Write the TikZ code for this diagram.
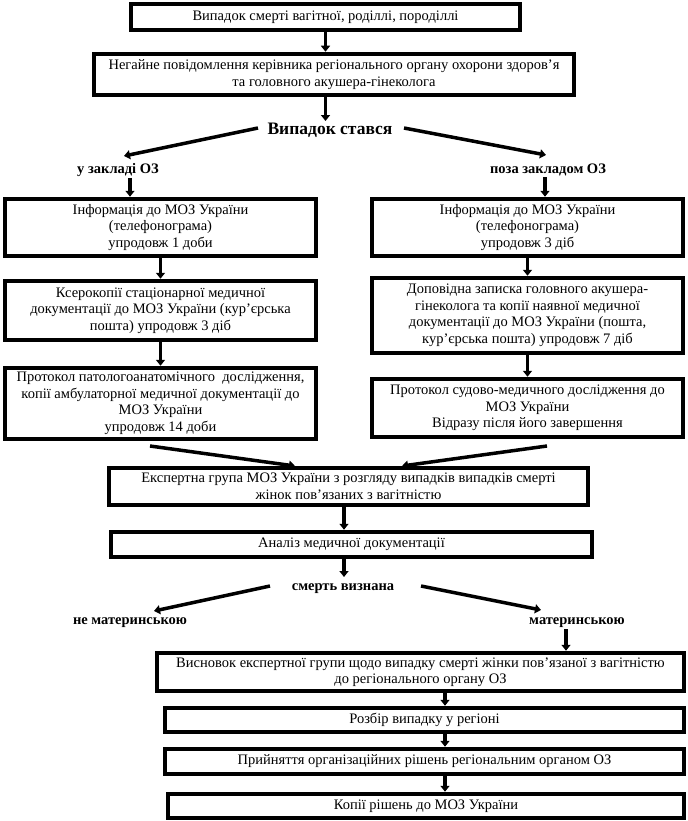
\documentclass[tikz,border=0pt]{standalone}
\usepackage{fontspec}
\setmainfont{Liberation Serif}
\usetikzlibrary{arrows.meta}
\tikzset{
  x=1bp, y=-1bp,
  box/.style={draw, line width=4.5bp, align=center, inner sep=0pt,
    font=\fontsize{14.5bp}{16.5bp}\selectfont},
  lbl/.style={inner sep=1bp, font=\bfseries\fontsize{14.5bp}{16bp}\selectfont},
  arr/.style={line width=3.5bp, -{Triangle[length=6bp,width=9bp]}},
}
\begin{document}
\begin{tikzpicture}
\useasboundingbox (0,0) rectangle (688,821);
% top
\node[box, minimum width=389bp, minimum height=26bp] (b1) at (325.5,17) {Випадок смерті вагітної, роділлі, породіллі};
\node[box, minimum width=480bp, minimum height=41bp] (b2) at (334,74.5) {Негайне повідомлення керівника регіонального органу охорони здоров’я\\та головного акушера-гінеколога};
\node[lbl, font=\bfseries\fontsize{17.5bp}{19bp}\selectfont] (case) at (330,130) {Випадок стався};
\node[lbl] (inz) at (118,170) {у закладі ОЗ};
\node[lbl] (outz) at (548,170) {поза закладом ОЗ};
\coordinate (cl0) at (258,128);
\coordinate (cl1) at (124,156);
\coordinate (cr0) at (404,128);
\coordinate (cr1) at (546,155);
\coordinate (caseTop) at (325.5,121);
% left column
\node[box, minimum width=311bp, minimum height=57bp] (a1) at (160.5,227.5) {Інформація до МОЗ України\\(телефонограма)\\упродовж 1 доби};
\node[box, minimum width=311bp, minimum height=59bp] (a2) at (160.5,310.5) {Ксерокопії стаціонарної медичної\\документації до МОЗ України (кур’єрська\\пошта) упродовж 3 діб};
\node[box, minimum width=311bp, minimum height=71bp] (a3) at (160.5,403.5) {Протокол патологоанатомічного\ \ дослідження,\\копії амбулаторної медичної документації до\\МОЗ України\\упродовж 14 доби};
% right column
\node[box, minimum width=311bp, minimum height=57bp] (r1) at (527.5,227.5) {Інформація до МОЗ України\\(телефонограма)\\упродовж 3 діб};
\node[box, minimum width=311bp, minimum height=75bp] (r2) at (527.5,315.5) {Доповідна записка головного акушера-\\гінеколога та копії наявної медичної\\документації до МОЗ України (пошта,\\кур’єрська пошта) упродовж 7 діб};
\node[box, minimum width=311bp, minimum height=58bp] (r3) at (527.5,408) {Протокол судово-медичного дослідження до\\МОЗ України\\Відразу після його завершення};
\coordinate (gl0) at (150,446);
\coordinate (gl1) at (295,466);
\coordinate (gr0) at (547,446);
\coordinate (gr1) at (402,466);
% middle
\node[box, minimum width=479bp, minimum height=37bp] (exp) at (348.5,486.5) {Експертна група МОЗ України з розгляду випадків випадків смерті\\жінок пов’язаних з вагітністю};
\node[box, minimum width=481bp, minimum height=25bp] (ana) at (351.5,544.5) {Аналіз медичної документації};
\node[lbl] (death) at (343,589) {смерть визнана};
\node[lbl] (notm) at (130,623) {не материнською};
\node[lbl] (mat) at (577,623) {материнською};
\coordinate (deathTop) at (344,577);
\coordinate (dl0) at (270,586);
\coordinate (dl1) at (154,611);
\coordinate (dr0) at (421,586);
\coordinate (dr1) at (541,610);
% bottom
\node[box, minimum width=527bp, minimum height=38bp] (c1) at (420.5,672) {Висновок експертної групи щодо випадку смерті жінки пов’язаної з вагітністю\\до регіонального органу ОЗ};
\node[box, minimum width=519bp, minimum height=24bp] (c2) at (424.5,720) {Розбір випадку у регіоні};
\node[box, minimum width=519bp, minimum height=25bp] (c3) at (424.5,761.5) {Прийняття організаційних рішень регіональним органом ОЗ};
\node[box, minimum width=516bp, minimum height=24bp] (c4) at (426,806) {Копії рішень до МОЗ України};
% connectors
\draw[arr] (b1.south) -- (b1.south |- b2.north);
\draw[arr] (b2.south -| caseTop) -- (caseTop);
\draw[arr] (cl0) -- (cl1);
\draw[arr] (cr0) -- (cr1);
\draw[arr] (inz.south -| 130,0) -- (130,0 |- a1.north);
\draw[arr] (outz.south -| 545,0) -- (545,0 |- r1.north);
\draw[arr] (a1.south) -- (a2.north);
\draw[arr] (a2.south) -- (a3.north);
\draw[arr] (r1.south) -- (r2.north);
\draw[arr] (r2.south) -- (r3.north);
\draw[arr] (gl0) -- (gl1);
\draw[arr] (gr0) -- (gr1);
\draw[arr] (exp.south -| 344,0) -- (344,0 |- ana.north);
\draw[arr] (ana.south -| deathTop) -- (deathTop);
\draw[arr] (dl0) -- (dl1);
\draw[arr] (dr0) -- (dr1);
\draw[arr] (mat.south -| 566,0) -- (566,0 |- c1.north);
\draw[arr] (c1.south -| 445,0) -- (445,0 |- c2.north);
\draw[arr] (c2.south -| 445,0) -- (445,0 |- c3.north);
\draw[arr] (c3.south -| 445,0) -- (445,0 |- c4.north);
\end{tikzpicture}
\end{document}
